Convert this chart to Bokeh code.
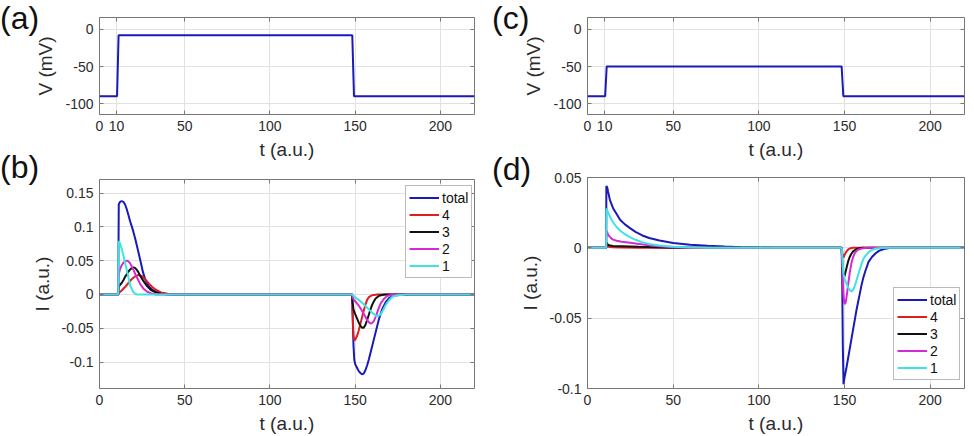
from bokeh.plotting import figure
from bokeh.layouts import row, column
from bokeh.models import (Div, Legend, LegendItem, FixedTicker, LinearAxis,
                          Range1d)
from bokeh.embed import file_html
from bokeh.resources import INLINE

# ---------------- data ----------------
# voltage protocol (panels a, c)
t_step = [0, 10.3, 11.2, 148.3, 149.3, 220]
v_step_a = [-90, -90, -8, -8, -90, -90]
v_step_c = [-90, -90, -50, -50, -90, -90]

# currents for the -8 mV step (panel b)
b_total_t = [0, 11, 11.3, 12, 13, 14, 15, 16, 17, 18, 19.4, 21, 22.5, 24, 25.5, 27, 29, 31, 33, 36, 40, 45,
             148.2, 148.5, 149, 149.5, 150, 151, 152, 153, 154, 155, 156, 157, 158, 159, 160, 161, 162, 163,
             164, 165, 166, 168, 170, 173, 177, 182, 220]
b_total_i = [0, 0, 0.133, 0.137, 0.138, 0.137, 0.133, 0.126, 0.117, 0.108, 0.097, 0.082, 0.066, 0.050, 0.033,
             0.021, 0.012, 0.007, 0.004, 0.002, 0.0005, 0,
             0, -0.03, -0.075, -0.097, -0.103, -0.108, -0.113, -0.116, -0.118, -0.117, -0.112, -0.105, -0.096,
             -0.086, -0.076, -0.066, -0.056, -0.046, -0.036, -0.028, -0.021, -0.011, -0.005, -0.0015, -0.0003, 0, 0]

b_s4_t = [0, 11, 11.3, 13, 15, 17, 19, 21, 23, 25, 27, 29, 31, 33, 36, 40, 45,
          148.2, 148.5, 149, 149.5, 150, 151, 152, 153, 154, 155, 156, 157, 158, 160, 163, 220]
b_s4_i = [0, 0, 0.002, 0.006, 0.011, 0.017, 0.023, 0.027, 0.029, 0.027, 0.022, 0.016, 0.011, 0.007, 0.003, 0.001, 0,
          0, -0.03, -0.060, -0.068, -0.067, -0.062, -0.054, -0.044, -0.034, -0.024, -0.015, -0.008, -0.004, -0.001, 0, 0]

b_s3_t = [0, 11, 11.3, 12, 13, 14, 15, 16, 17, 18, 19, 20, 21, 22, 23, 24, 25, 26, 28, 30, 33, 36, 40,
          148.2, 148.5, 149, 150, 151, 152, 153, 154, 155, 156, 157, 158, 159, 160, 161, 162, 164, 167, 220]
b_s3_i = [0, 0, 0.012, 0.014, 0.017, 0.021, 0.026, 0.030, 0.034, 0.037, 0.039, 0.040, 0.039, 0.036, 0.032, 0.027,
          0.023, 0.019, 0.012, 0.007, 0.003, 0.001, 0,
          0, -0.012, -0.022, -0.029, -0.035, -0.041, -0.046, -0.049, -0.049, -0.045, -0.038, -0.030, -0.022, -0.015,
          -0.010, -0.006, -0.002, 0, 0]

b_s2_t = [0, 11, 11.3, 12, 13, 14, 15, 16, 17, 18, 19, 20, 21, 22, 23, 24, 26, 28, 30, 33,
          148.2, 148.5, 149, 150, 152, 154, 156, 157, 158, 159, 160, 161, 162, 163, 164, 165, 167, 169, 172, 176, 220]
b_s2_i = [0, 0, 0.030, 0.037, 0.043, 0.047, 0.049, 0.050, 0.049, 0.046, 0.041, 0.036, 0.030, 0.025, 0.020, 0.015,
          0.008, 0.004, 0.002, 0,
          0, -0.004, -0.007, -0.010, -0.016, -0.024, -0.033, -0.038, -0.041, -0.043, -0.042, -0.039, -0.033, -0.026,
          -0.019, -0.013, -0.006, -0.002, -0.0005, 0, 0]

b_s1_t = [0, 11, 11.3, 12, 13, 14, 15, 16, 17, 18, 19, 20, 21, 22,
          148.2, 149, 150, 152, 154, 156, 158, 160, 162, 163, 164, 165, 166, 167, 168, 170, 172, 175, 180, 220]
b_s1_i = [0, 0, 0.079, 0.076, 0.068, 0.058, 0.047, 0.036, 0.025, 0.013, 0.008, 0.003, 0.001, 0,
          0, -0.002, -0.004, -0.008, -0.012, -0.017, -0.022, -0.027, -0.031, -0.032, -0.031, -0.029, -0.025, -0.020,
          -0.015, -0.008, -0.003, -0.001, 0, 0]

# currents for the -50 mV step (panel d)
d_total_t = [0, 10.9, 11.0, 11.5, 12, 13, 14, 15, 17, 19, 22, 25, 28, 32, 36, 42, 50, 60, 70, 80, 90, 100, 110,
             148.3, 148.6, 149.0, 149.4, 150, 151, 152, 153, 154, 155, 156, 157, 158, 159, 160, 161, 162, 164,
             166, 168, 170, 173, 177, 220]
d_total_i = [0, 0, 0.044, 0.043, 0.040, 0.0345, 0.031, 0.028, 0.024, 0.020, 0.0165, 0.0138, 0.0113, 0.0088,
             0.0070, 0.0052, 0.0035, 0.0022, 0.0014, 0.0009, 0.0005, 0.0002, 0,
             0, -0.02, -0.07, -0.097, -0.092, -0.086, -0.079, -0.072, -0.065, -0.058, -0.051, -0.044, -0.038,
             -0.032, -0.026, -0.021, -0.017, -0.010, -0.0065, -0.004, -0.0022, -0.0008, 0, 0]

d_s4_t = [0, 10.9, 11.1, 12, 14, 20, 30, 40, 148.3, 148.8, 149.3, 150, 151, 152, 153, 155, 220]
d_s4_i = [0, 0, 0.0015, 0.0008, 0.0005, 0.0003, 0.0001, 0, 0, -0.004, -0.007, -0.005, -0.0028, -0.0013, -0.0005, 0, 0]

d_s3_t = [0, 10.9, 11.1, 12, 13, 15, 20, 30, 40, 50, 60,
          148.3, 148.8, 149.3, 150, 151, 152, 153, 154, 155, 157, 160, 220]
d_s3_i = [0, 0, 0.0035, 0.0022, 0.0016, 0.0013, 0.0011, 0.0007, 0.0004, 0.0001, 0,
          0, -0.012, -0.022, -0.020, -0.015, -0.010, -0.0065, -0.0042, -0.0025, -0.0008, 0, 0]

d_s2_t = [0, 10.9, 11.1, 11.5, 12, 13, 14, 15, 17, 20, 25, 30, 35, 40, 50, 60,
          148.3, 148.8, 149.3, 149.8, 150.3, 150.8, 151.5, 152, 153, 154, 155, 156, 157, 158, 160, 162, 165, 220]
d_s2_i = [0, 0, 0.012, 0.011, 0.0095, 0.0078, 0.0066, 0.0058, 0.0050, 0.0044, 0.0036, 0.0028, 0.0020, 0.0013,
          0.0005, 0,
          0, -0.015, -0.032, -0.039, -0.040, -0.038, -0.032, -0.027, -0.018, -0.011, -0.0065, -0.0038, -0.0022,
          -0.0013, -0.0005, -0.0002, 0, 0]

d_s1_t = [0, 10.9, 11.1, 11.5, 12, 13, 14, 15, 17, 19, 22, 25, 28, 32, 36, 42, 50, 60, 70,
          148.3, 148.8, 149.3, 150, 151, 152, 153, 154, 155, 156, 157, 158, 159, 160, 161, 162, 164, 166, 168,
          171, 175, 220]
d_s1_i = [0, 0, 0.028, 0.027, 0.025, 0.0225, 0.020, 0.018, 0.0148, 0.0123, 0.0095, 0.0074, 0.0057, 0.0040,
          0.0028, 0.0016, 0.0008, 0.0003, 0,
          0, -0.008, -0.018, -0.022, -0.025, -0.028, -0.030, -0.031, -0.030, -0.027, -0.023, -0.019, -0.015,
          -0.011, -0.008, -0.006, -0.003, -0.0015, -0.0007, -0.0002, 0, 0]

series_labels = ["total", "4", "3", "2", "1"]
series_colors = ["#1a1ab8", "#e01e1e", "#111111", "#d42ad4", "#3fe3e3"]

x_ticks_v = [0, 10, 50, 100, 150, 200]
x_ticks_i = [0, 50, 100, 150, 200]
v_ticks = [-100, -50, 0]
b_ticks = [-0.1, -0.05, 0, 0.05, 0.1, 0.15]
d_ticks = [-0.1, -0.05, 0, 0.05]

# ---------------- styling helpers ----------------
FONT = "Liberation Sans"
TXT = "#2b2b2b"
FRAME = "#777777"
GRID = "#e2e2e2"


def tick_text(v):
    return ("%g" % v)


def make_panel(width, height, borders, y_range, xticks, yticks, ylabel):
    left, right, top, bottom = borders
    p = figure(width=width, height=height, output_backend="svg", toolbar_location=None,
               x_range=Range1d(0, 220), y_range=Range1d(*y_range),
               min_border_left=left, min_border_right=right,
               min_border_top=top, min_border_bottom=bottom)
    p.background_fill_color = "white"
    p.border_fill_color = "white"
    p.outline_line_color = FRAME
    p.outline_line_width = 1
    p.xgrid.ticker = FixedTicker(ticks=xticks)
    p.ygrid.ticker = FixedTicker(ticks=yticks)
    for g in (p.xgrid[0], p.ygrid[0]):
        g.grid_line_color = GRID
        g.grid_line_width = 1

    xa, ya = p.xaxis[0], p.yaxis[0]
    xa.ticker = FixedTicker(ticks=xticks)
    ya.ticker = FixedTicker(ticks=yticks)
    xa.major_label_overrides = {v: tick_text(v) for v in xticks}
    ya.major_label_overrides = {v: tick_text(v) for v in yticks}
    xa.axis_label = "t (a.u.)"
    ya.axis_label = ylabel
    for ax in (xa, ya):
        ax.axis_line_color = None
        ax.major_tick_in = 4
        ax.major_tick_out = 0
        ax.major_tick_line_color = FRAME
        ax.minor_tick_line_color = None
        ax.major_label_text_font = FONT
        ax.major_label_text_font_size = "14px"
        ax.major_label_text_color = TXT
        ax.axis_label_text_font = FONT
        ax.axis_label_text_font_size = "19px"
        ax.axis_label_text_font_style = "normal"
        ax.axis_label_text_color = TXT
    xa.major_label_standoff = 6
    xa.axis_label_standoff = 5
    ya.major_label_standoff = 6
    ya.axis_label_standoff = 6

    # tick marks on the top and right edges of the box (no labels there)
    for loc, ticks in (("above", xticks), ("right", yticks)):
        ax = LinearAxis(ticker=FixedTicker(ticks=ticks))
        ax.axis_line_color = None
        ax.major_tick_in = 4
        ax.major_tick_out = 0
        ax.major_tick_line_color = FRAME
        ax.minor_tick_line_color = None
        ax.major_label_overrides = {v: "" for v in ticks}
        ax.major_label_standoff = 0
        p.add_layout(ax, loc)
    return p


def add_currents(p, ts, vals, loc):
    items = []
    for lab, col, t, v in zip(series_labels, series_colors, ts, vals):
        r = p.line(t, v, line_color=col, line_width=2)
        items.append(LegendItem(label=lab, renderers=[r]))
    leg = Legend(items=items, location=loc, margin=0, padding=3, spacing=0,
                 glyph_width=30, glyph_height=17, label_height=17, label_width=20,
                 label_standoff=3, label_text_font=FONT, label_text_font_size="14px",
                 label_text_color="#111111", border_line_color=FRAME, border_line_width=1,
                 background_fill_color="white", background_fill_alpha=1.0)
    p.add_layout(leg)


def panel_tag(text, left, top):
    # panel letter floated over the page, outside the normal layout flow
    return Div(text=text, width=50, height=36,
               styles={"position": "absolute", "left": f"{left}px", "top": f"{top}px",
                       "font-family": FONT, "font-size": "32px", "line-height": "36px",
                       "color": "#111111", "margin": "0", "padding": "0",
                       "white-space": "nowrap", "z-index": "10"})


# ---------------- panels ----------------
pa = make_panel(490, 162, (99, 16, 17, 48), (-114.5, 16), x_ticks_v, v_ticks, "V (mV)")
pa.line(t_step, v_step_a, line_color=series_colors[0], line_width=2)

pb = make_panel(490, 274, (96, 11, 17, 47), (-0.139, 0.17), x_ticks_i, b_ticks, "I (a.u.)")
add_currents(pb, [b_total_t, b_s4_t, b_s3_t, b_s2_t, b_s1_t],
             [b_total_i, b_s4_i, b_s3_i, b_s2_i, b_s1_i], (306, 110))

pc = make_panel(484, 162, (97, 10, 17, 48), (-114.5, 16), x_ticks_v, v_ticks, "V (mV)")
pc.line(t_step, v_step_c, line_color=series_colors[0], line_width=2)

pd = make_panel(484, 274, (94, 9, 15, 48), (-0.1, 0.05), x_ticks_i, d_ticks, "I (a.u.)")
add_currents(pd, [d_total_t, d_s4_t, d_s3_t, d_s2_t, d_s1_t],
             [d_total_i, d_s4_i, d_s3_i, d_s2_i, d_s1_i], (306, 8))

tags = [panel_tag("(a)", 0, 0), panel_tag("(b)", 0, 149),
        panel_tag("(c)", 492, 0), panel_tag("(d)", 492, 151)]

layout = column(row(column(pa, pb), column(pc, pd)), *tags)

open("out.html", "w").write(file_html(layout, INLINE))
